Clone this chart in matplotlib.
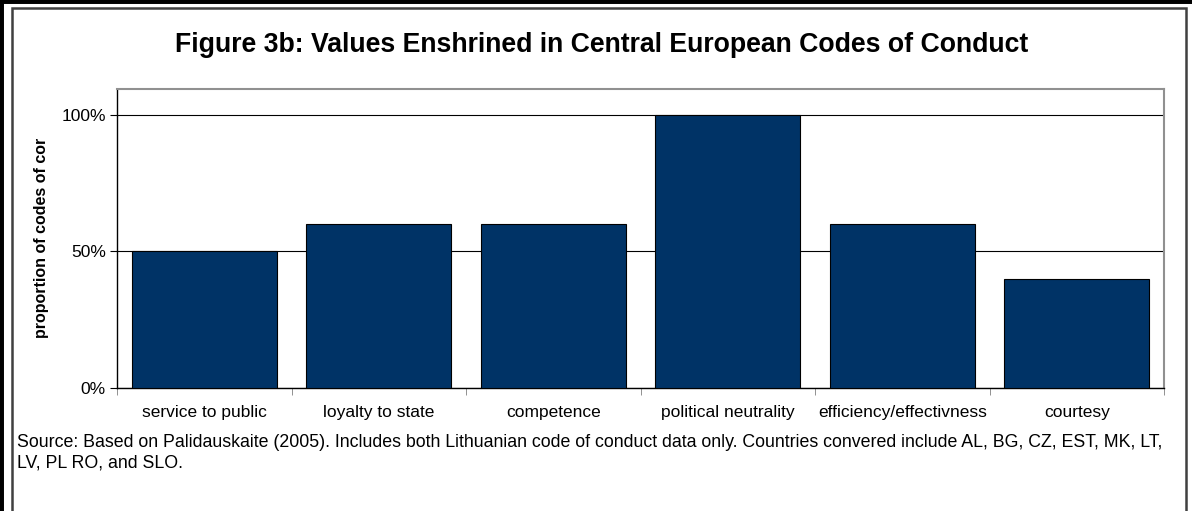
import matplotlib
matplotlib.use("Agg")
import matplotlib.pyplot as plt
from matplotlib.lines import Line2D
from matplotlib.patches import Rectangle
from matplotlib.ticker import FixedLocator, PercentFormatter

plt.rcParams['font.family'] = ['Liberation Sans', 'DejaVu Sans']

categories = ['service to public', 'loyalty to state', 'competence',
              'political neutrality', 'efficiency/effectivness', 'courtesy']
values = [0.5, 0.6, 0.6, 1.0, 0.6, 0.4]
y_ticks = [0, 0.5, 1.0]

title = 'Figure 3b: Values Enshrined in Central European Codes of Conduct'
y_label = 'proportion of codes of cor'
source = ('Source: Based on Palidauskaite (2005). Includes both Lithuanian code of '
          'conduct data only. Countries convered include AL, BG, CZ, EST, MK, LT,\n'
          'LV, PL RO, and SLO.')

W, H = 1192, 511
fig = plt.figure(figsize=(W / 100, H / 100), dpi=100)

# frame of the chart object (thick black outer edge + grey inner edge)
fig.add_artist(Line2D([0, 0], [0, 1], transform=fig.transFigure, color='black', lw=5))
fig.add_artist(Line2D([0, 1], [1, 1], transform=fig.transFigure, color='black', lw=5))
fig.add_artist(Rectangle((11.5 / W, -0.05), 1174 / W, 1 - 8.5 / H + 0.05,
                         transform=fig.transFigure, fill=False,
                         edgecolor='#404040', lw=1.8))

ax = fig.add_axes([117 / W, (H - 388) / H, 1047 / W, 299 / H])

x = range(len(categories))
ax.bar(x, values, width=0.83, color='#003366', edgecolor='black', linewidth=0.8, zorder=3)

ax.set_xlim(-0.5, len(categories) - 0.5)
ax.set_ylim(0, 1.095)
ax.yaxis.set_major_locator(FixedLocator(y_ticks))
ax.yaxis.set_major_formatter(PercentFormatter(1.0, decimals=0))
ax.grid(axis='y', color='black', lw=0.8, zorder=0)

ax.set_xticks(list(x))
ax.set_xticklabels(categories, fontsize=12.5)
ax.tick_params(axis='x', length=0, pad=12)
ax.set_xticks([i - 0.5 for i in range(len(categories) + 1)], minor=True)
ax.tick_params(axis='x', which='minor', length=5, direction='out', color='#808080')
ax.tick_params(axis='y', length=5, labelsize=12.5, pad=3)

for side in ['left', 'bottom']:
    ax.spines[side].set_color('black')
    ax.spines[side].set_linewidth(1.0)
for side in ['top', 'right']:
    ax.spines[side].set_color('#909090')
    ax.spines[side].set_linewidth(1.5)

fig.text(42 / W, 1 - 238 / H, y_label, rotation=90, ha='center', va='center',
         fontsize=11.5, fontweight='bold')
fig.text(602 / W, 1 - 45 / H, title, ha='center', va='center',
         fontsize=19.2, fontweight='bold')
fig.text(17 / W, 1 - 434 / H, source, ha='left', va='top',
         fontsize=12.8, linespacing=1.25)

plt.savefig('out.png', dpi=100)
